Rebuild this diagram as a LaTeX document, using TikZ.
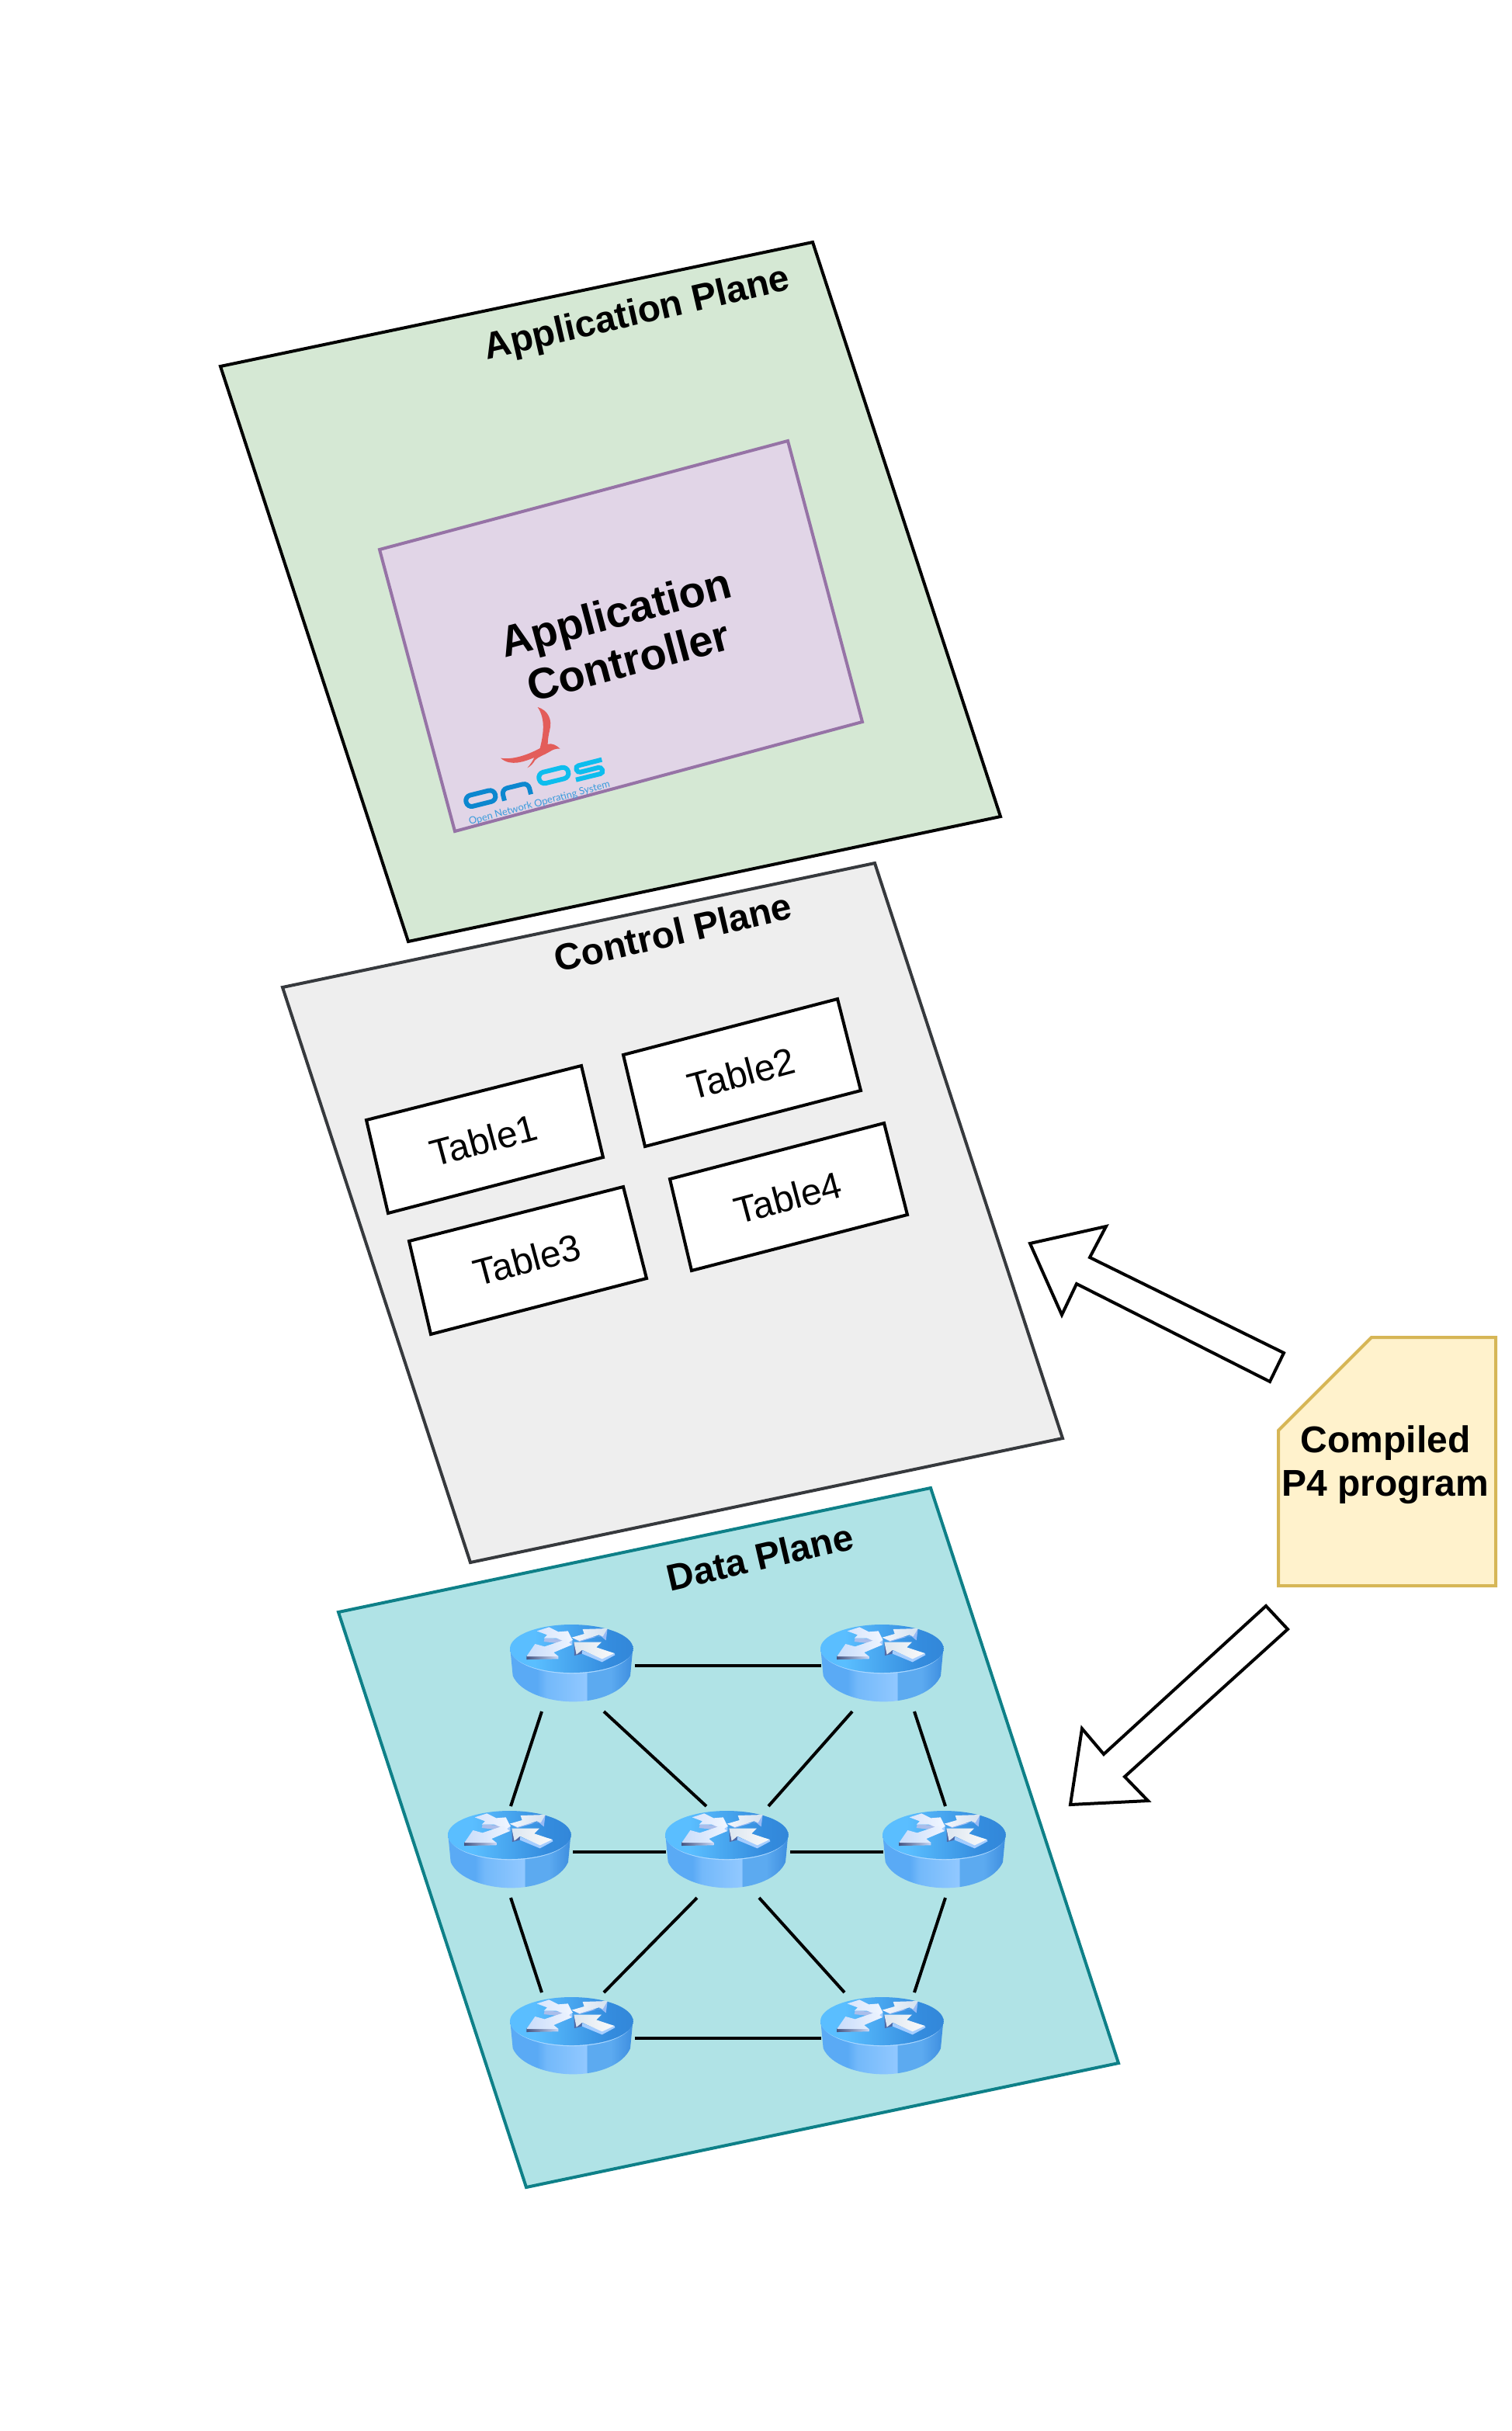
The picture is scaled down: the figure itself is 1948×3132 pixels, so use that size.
\documentclass[tikz,border=0pt]{standalone}
\usepackage{fontspec}
\setmainfont{Liberation Sans}
\newfontfamily\logofont{Lato}
\usetikzlibrary{calc}
\definecolor{appfill}{HTML}{D5E8D4}
\definecolor{ctlfill}{HTML}{E1D5E7}
\definecolor{ctlline}{HTML}{9673A6}
\definecolor{cpfill}{HTML}{EEEEEE}
\definecolor{cpline}{HTML}{36393D}
\definecolor{dpfill}{HTML}{B0E3E6}
\definecolor{dpline}{HTML}{0E8088}
\definecolor{docfill}{HTML}{FFF2CC}
\definecolor{docline}{HTML}{D6B656}
\definecolor{onosdark}{HTML}{0C87CF}
\definecolor{onoslight}{HTML}{0DBDEE}
\definecolor{onostext}{HTML}{3A9BDC}
\definecolor{birdred}{HTML}{E35D5A}
\definecolor{rta}{RGB}{90,190,255}
\definecolor{rtb}{RGB}{52,140,222}
\definecolor{rtc}{RGB}{46,122,205}
\definecolor{rsa}{RGB}{90,170,245}
\definecolor{rsb}{RGB}{115,185,250}
\definecolor{rsc}{RGB}{145,200,255}
\definecolor{rsd}{RGB}{92,170,240}
\definecolor{rse}{RGB}{65,145,225}
\definecolor{rsf}{RGB}{130,190,250}
\definecolor{rrim}{RGB}{170,215,255}
\definecolor{aa}{RGB}{170,190,235}
\definecolor{ab}{RGB}{215,228,252}
\definecolor{ac}{RGB}{240,246,255}
\definecolor{ad}{RGB}{70,85,130}
\definecolor{ae}{RGB}{200,215,245}
\definecolor{af}{RGB}{165,205,255}
\definecolor{ag}{RGB}{200,220,250}
\definecolor{ah}{RGB}{238,244,255}
\definecolor{ai}{RGB}{150,185,245}
\definecolor{aj}{RGB}{242,246,252}
\definecolor{ak}{RGB}{212,225,240}
\definecolor{al}{RGB}{80,105,165}
\definecolor{am}{RGB}{220,230,240}
\definecolor{an}{RGB}{250,250,250}
\pgfdeclarehorizontalshading{routertop}{100bp}{
 color(0bp)=(rta);
 color(35bp)=(rta);
 color(65bp)=(rtb);
 color(100bp)=(rtc)}
\pgfdeclarehorizontalshading{routerside}{100bp}{
 color(0bp)=(rsa);
 color(36bp)=(rsa);
 color(40bp)=(rsb);
 color(56bp)=(rsc);
 color(56.5bp)=(rsd);
 color(66bp)=(rsd);
 color(74bp)=(rse);
 color(84bp)=(rse);
 color(92bp)=(rsf);
 color(100bp)=(rsf)}
\tikzset{
  x=1pt,y=-1pt,
  plane/.style={line width=4pt,line join=miter},
  title/.style={font=\fontsize{48}{56}\selectfont\bfseries,align=center,inner sep=0pt},
  tablebox/.style={draw=black,fill=white,line width=4pt},
  tabletext/.style={font=\fontsize{48}{56}\selectfont,inner sep=0pt,rotate=15},
  bigarrow/.style={draw=black,fill=white,line width=4pt,line join=miter},
  routernode/.style={minimum width=160pt,minimum height=118pt,inner sep=0pt,outer sep=0pt},
  link/.style={draw=black,line width=4pt},
  routerpic/.pic={
    \begin{scope}[scale=1/3,shift={(-324,-231)}]
      % body
      \path[shading=routerside]
        (82,165) -- (92,270) .. controls (120,335) and (230,370) .. (325,370)
        .. controls (430,370) and (520,330) .. (546,270) -- (556,165) -- cycle;
      % rim highlight and top
      \path[fill=rrim,even odd rule] (85,180) .. controls (110,235) and (220,262) .. (320,262)
        .. controls (420,262) and (530,235) .. (553,180)
        .. controls (530,228) and (420,254) .. (320,254)
        .. controls (220,254) and (110,228) .. (85,180) -- cycle;
      \path[shading=routertop] (319,165) ellipse [x radius=238,y radius=93];
      % arrows
      \path[fill=aa] (215,125) -- (212,138) -- (318,150) -- (320,130) -- cycle;
      \path[left color=ab,right color=ac]
        (185,97) -- (232,82) -- (268,100) -- (305,97) -- (322,130) -- (318,148) -- (262,125) -- (212,125) -- (225,112) -- cycle;
      \path[left color=ad,right color=ae]
        (145,192) -- (268,194) -- (268,205) -- (145,207) -- cycle;
      \path[fill=af] (250,178) -- (322,150) -- (322,132) -- (288,158) -- cycle;
      \path[left color=ag,right color=ah]
        (145,195) -- (178,147) -- (215,157) -- (295,130) -- (320,150) -- (250,180) -- (268,195) -- cycle;
      \path[fill=ai] (320,122) -- (350,138) -- (430,115) -- (452,133) -- (458,87) -- (430,118) -- cycle;
      \path[left color=aj,right color=ak]
        (320,122) -- (368,108) -- (362,90) -- (458,87) -- (440,118) -- (425,112) -- (350,135) -- cycle;
      \path[fill=al] (328,140) -- (330,192) -- (358,185) -- (360,170) -- cycle;
      \path[fill=af] (437,203) -- (485,183) -- (487,190) -- (437,217) -- (360,185) -- (360,172) -- cycle;
      \path[left color=am,right color=an]
        (328,140) -- (435,140) -- (415,160) -- (485,183) -- (437,205) -- (360,170) -- (338,188) -- cycle;
    \end{scope}
  }
}
\begin{document}
\begin{tikzpicture}
\useasboundingbox (0,0) rectangle (1948,3132);

% planes
\draw[plane,fill=appfill,draw=black] (284,472) -- (1047,312) -- (1289,1052) -- (526,1213) -- cycle;
\draw[plane,fill=ctlfill,draw=ctlline] (489,708) -- (1015,568) -- (1111,930) -- (586,1071) -- cycle;
\draw[plane,fill=cpfill,draw=cpline] (364,1272) -- (1127,1112) -- (1369,1853) -- (606,2013) -- cycle;
\draw[plane,fill=dpfill,draw=dpline] (436,2077) -- (1199,1917) -- (1441,2658) -- (678,2818) -- cycle;

% titles
\node[title,rotate=13] (apptitle) at (821,406) {Application Plane};
\node[title,rotate=15,font=\fontsize{56}{64}\selectfont\bfseries] (ctltitle) at (801,820) {Application\\Controller};
\node[title,rotate=13] (cptitle) at (867,1201) {Control Plane};
\node[title,rotate=13] (dptitle) at (979,2006) {Data Plane};

% logo
\begin{scope}[shift={(540,860)},scale=1/3]
  \fill[birdred] (458,153) .. controls (500,165) and (515,205) .. (505,240)
    .. controls (500,262) and (497,280) .. (497,296)
    .. controls (515,292) and (530,300) .. (545,314)
    .. controls (530,312) and (515,318) .. (505,325)
    .. controls (480,340) and (460,345) .. (448,358)
    .. controls (440,372) and (430,382) .. (418,388)
    .. controls (430,375) and (438,362) .. (445,348)
    .. controls (410,362) and (355,385) .. (315,350)
    .. controls (365,358) and (425,335) .. (467,312)
    .. controls (480,260) and (490,200) .. (458,153) -- cycle;
  \draw[onosdark,line width=6pt,rounded corners=7pt,rotate around={14:(238,506)}]
    (180,484) rectangle (296,528);
  \draw[onosdark,line width=6pt,rounded corners=7pt] (330,515) -- (319,471) -- (421,446) -- (432,490);
  \draw[onoslight,line width=6pt,rounded corners=7pt,rotate around={14:(520,417)}]
    (462,395) rectangle (578,439);
  \draw[onoslight,line width=6pt,rounded corners=4pt]
    (606,434) -- (712,408) -- (704,384) -- (612,407) -- (604,382) -- (706,356);
  \node[rotate=15,inner sep=0pt,text=onostext,font=\logofont\fontsize{12.8}{15}\selectfont] (onostag) at (465,525) {Open Network Operating System};
\end{scope}

% tables
\draw[tablebox] (472,1443) -- (749,1373) -- (777,1491) -- (500,1563) -- cycle;
\draw[tablebox] (803,1359) -- (1079,1287) -- (1109,1405) -- (831,1477) -- cycle;
\draw[tablebox] (527,1599) -- (803,1529) -- (833,1647) -- (555,1719) -- cycle;
\draw[tablebox] (863,1519) -- (1139,1447) -- (1169,1565) -- (891,1637) -- cycle;
\node[tabletext] (t1) at (623,1469) {Table1};
\node[tabletext] (t2) at (955,1383) {Table2};
\node[tabletext] (t3) at (679,1623) {Table3};
\node[tabletext] (t4) at (1015,1543) {Table4};

% routers
\node[routernode] (r1) at (738,2146) {};
\node[routernode] (r2) at (1138,2146) {};
\node[routernode] (r3) at (658,2386) {};
\node[routernode] (r4) at (938,2386) {};
\node[routernode] (r5) at (1218,2386) {};
\node[routernode] (r6) at (738,2626) {};
\node[routernode] (r7) at (1138,2626) {};
\foreach \n in {r1,r2,r3,r4,r5,r6,r7} { \pic at (\n.center) {routerpic}; }

\draw[link] (r1.east) -- (r2.west);
\draw[link] ([xshift=-40pt]r1.south) -- (r3.north);
\draw[link] ([xshift=40pt]r1.south) -- ([xshift=-28pt]r4.north);
\draw[link] ([xshift=-40pt]r2.south) -- ([xshift=52pt]r4.north);
\draw[link] ([xshift=40pt]r2.south) -- (r5.north);
\draw[link] (r3.east) -- (r4.west);
\draw[link] (r4.east) -- (r5.west);
\draw[link] (r3.south) -- ([xshift=-40pt]r6.north);
\draw[link] ([xshift=-40pt]r4.south) -- ([xshift=40pt]r6.north);
\draw[link] ([xshift=40pt]r4.south) -- ([xshift=-50pt]r7.north);
\draw[link] (r5.south) -- ([xshift=40pt]r7.north);
\draw[link] (r6.east) -- (r7.west);

% big arrows
\draw[bigarrow] (1654,1743) -- (1636,1780) -- (1387,1654) -- (1368,1694) -- (1327,1602) -- (1425,1580) -- (1404,1620) -- cycle;
\draw[bigarrow] (1631,2069) -- (1659,2099) -- (1449,2289) -- (1479,2320) -- (1379,2325) -- (1394,2227) -- (1422,2260) -- cycle;

% compiled program
\draw[line width=4pt,fill=docfill,draw=docline] (1647,1723) ++(0,120) -- (1767,1723) -- (1927,1723) -- (1927,2043) -- (1647,2043) -- cycle;
\node[title] (doctext) at (1785,1887) {Compiled\\P4 program};
\end{tikzpicture}
\end{document}
